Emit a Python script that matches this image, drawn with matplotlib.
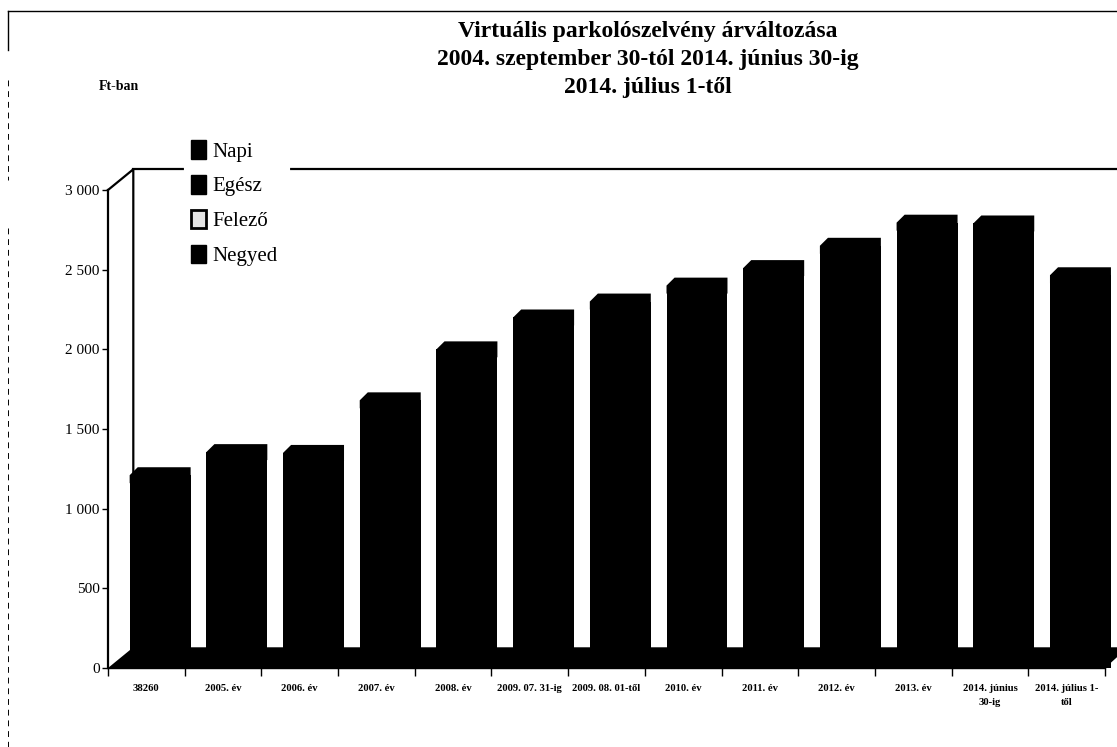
import numpy as np
import matplotlib
matplotlib.use('Agg')
from matplotlib import pyplot as plt
from matplotlib.lines import Line2D
from matplotlib.patches import Patch

plt.rcParams['font.family'] = ['Liberation Serif', 'DejaVu Serif']

categories = ['38260', '2005. év', '2006. év', '2007. év', '2008. év',
              '2009. 07. 31-ig', '2009. 08. 01-től', '2010. év', '2011. év',
              '2012. év', '2013. év', '2014. június\n30-ig', '2014. július 1-\ntől']
values = [1210, 1355, 1350, 1680, 2000, 2200, 2300, 2400, 2510, 2650, 2795, 2790, 2465]
yticks = [0, 500, 1000, 1500, 2000, 2500, 3000]
ytick_labels = ['0', '500', '1 000', '1 500', '2 000', '2 500', '3 000']
legend_names = ['Napi', 'Egész', 'Felező', 'Negyed']
title_lines = ['Virtuális parkolószelvény árváltozása',
               '2004. szeptember 30-tól 2014. június 30-ig',
               '2014. július 1-től']

W, H = 1117, 747
fig = plt.figure(figsize=(W / 100, H / 100), dpi=100)
ax = fig.add_axes([108 / W, 1 - 668 / H, (1105 - 108) / W, (668 - 190) / H])
ax.set_xlim(-0.5, 12.5)
ax.set_ylim(0, 3000)
ax.patch.set_alpha(0)

# depth of the fake 3d box, in data units
depth_x = 0.33
depth_y = 130
bar_shift = 0.18
bar_w = 0.795
cham_x = 0.105
cham_y = 50

x = np.arange(len(values))
left, right = -0.5, 12.5

# back wall lines
ax.plot([left, left + depth_x, left + depth_x], [3000, 3000 + depth_y, depth_y],
        color='k', lw=1.6, clip_on=False)
ax.plot([left + depth_x, right + 0.3], [3000 + depth_y] * 2, color='k', lw=1.6, clip_on=False)

# floor
ax.fill([left, left + depth_x, right + 0.3, right + 0.3, right],
        [0, depth_y, depth_y, depth_y, 0], color='k', lw=0, clip_on=False, zorder=2)

# bars, the cap overlaps the body so no seam shows
ax.bar(x + bar_shift, values, width=bar_w, color='k', lw=0, clip_on=False, zorder=3)
for xi, v in zip(x + bar_shift, values):
    l, r = xi - bar_w / 2, xi + bar_w / 2
    ax.fill([l, l, l + cham_x, r, r], [v - cham_y, v, v + cham_y, v + cham_y, v - cham_y],
            color='k', lw=0, clip_on=False, zorder=3)

for s in ['top', 'right']:
    ax.spines[s].set_visible(False)
ax.spines['left'].set_linewidth(1.6)
ax.spines['bottom'].set_linewidth(1.0)

ax.set_yticks(yticks)
ax.set_yticklabels(ytick_labels, fontsize=11)
ax.tick_params(axis='y', length=4, width=1, pad=2)
ax.set_xticks(np.arange(len(values) + 1) - 0.5)
ax.set_xticklabels([])
ax.set_xticks(x, minor=True)
ax.set_xticklabels(categories, minor=True, fontsize=7.7, fontweight='bold', linespacing=1.7)
ax.tick_params(axis='x', which='major', length=6, width=1)
ax.tick_params(axis='x', which='minor', length=0, pad=11.5)

# legend
handles = [Patch(facecolor='k', edgecolor='k'), Patch(facecolor='k', edgecolor='k'),
           Patch(facecolor='#e4e4e4', edgecolor='k', lw=2), Patch(facecolor='k', edgecolor='k')]
leg = ax.legend(handles, legend_names, loc='upper left', bbox_to_anchor=(187 / W, 1 - 136 / H),
                bbox_transform=fig.transFigure, fontsize=15, frameon=True, framealpha=1,
                edgecolor='none', facecolor='white', borderpad=0.2, labelspacing=0.64,
                handlelength=0.7, handleheight=1.0, handletextpad=0.3, borderaxespad=0, fancybox=False)
leg.set_zorder(5)

# gap in the back line next to the legend
fig.add_artist(Line2D([186 / W, 288 / W], [1 - 169 / H] * 2, color='white', lw=3))

# title and unit
for line, py in zip(title_lines, [31, 59, 88]):
    fig.text(648 / W, 1 - py / H, line, ha='center', va='center', fontsize=17, fontweight='bold')
fig.text(119 / W, 1 - 86 / H, 'Ft-ban', ha='center', va='center', fontsize=10, fontweight='bold')

# frame of the scanned page
fig.add_artist(Line2D([8 / W, 1], [1 - 11 / H] * 2, color='k', lw=1))
fig.add_artist(Line2D([8 / W, 8 / W], [1 - 11 / H, 1 - 50 / H], color='k', lw=1))
fig.add_artist(Line2D([8 / W, 8 / W], [1 - 80 / H, 1 - 180 / H], color='k', lw=0.7, ls=(0, (6, 5))))
fig.add_artist(Line2D([8 / W, 8 / W], [1 - 228 / H, 0], color='k', lw=0.7, ls=(0, (6, 5))))

plt.savefig('out.png', dpi=100)
